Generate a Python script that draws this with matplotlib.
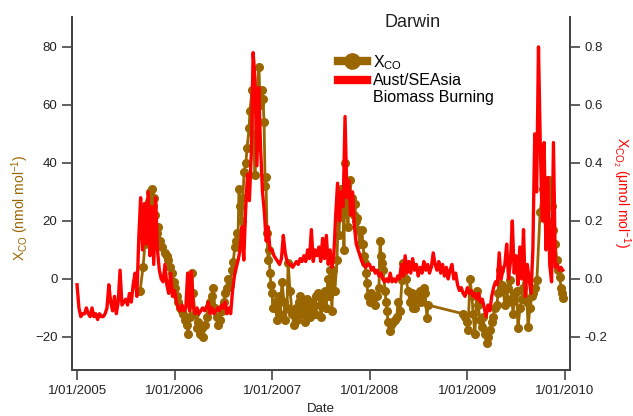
import matplotlib
matplotlib.use("Agg")
import matplotlib.pyplot as plt
import pandas as pd
from matplotlib.lines import Line2D
from matplotlib.ticker import FormatStrFormatter

plt.rcParams['font.family'] = ['Liberation Sans', 'DejaVu Sans']
plt.rcParams['mathtext.default'] = 'regular'

BROWN = '#996600'
RED = '#ff0000'
AXIS_GREY = '#444444'

# Aust/SEAsia biomass burning tracer (umol/mol), weekly, one list per year
red_2005 = [-0.02, -0.10, -0.13, -0.12, -0.12,
            -0.10, -0.12, -0.13, -0.10,
            -0.13, -0.12, -0.14, -0.12, -0.13,
            -0.13, -0.12, -0.10, -0.02,
            -0.08, -0.11, -0.06, -0.12,
            -0.08, 0.03, -0.09, -0.08, -0.07,
            -0.09, -0.05, -0.08, -0.02,
            0.02, -0.06, 0.14, 0.28,
            0.10, 0.26, 0.12, 0.30, 0.08,
            0.25, 0.05, 0.28, 0.10,
            0.03, 0.00, -0.01, 0.05,
            -0.02, -0.05, 0.02, -0.06]
red_2006 = [-0.04, -0.08, -0.10, -0.11,
            -0.09, -0.11, -0.10, 0.02,
            -0.11, 0.025, -0.10, -0.12, -0.10,
            -0.12, -0.11, -0.10, -0.11,
            -0.10, -0.08, -0.12, -0.10,
            -0.12, -0.11, -0.10, -0.11, -0.09,
            -0.10, -0.08, -0.12, -0.10,
            -0.12, -0.04, 0.01, 0.04,
            0.065, 0.10, 0.18, 0.065, 0.24,
            0.36, 0.27, 0.43, 0.78,
            0.69, 0.39, 0.66, 0.45,
            0.30, 0.23, 0.13, 0.18, 0.10]
red_2007 = [0.10, 0.08, 0.07, 0.06,
            0.05, 0.07, 0.15, 0.09,
            0.06, 0.05, 0.05, 0.04, 0.05,
            0.06, 0.05, 0.07, 0.06,
            0.08, 0.06, 0.10, 0.07,
            0.17, 0.06, 0.10, 0.08, 0.11,
            0.06, 0.14, 0.07, 0.15,
            0.05, 0.10, 0.04, 0.08,
            0.22, 0.33, 0.20, 0.30, 0.25,
            0.56, 0.28, 0.34, 0.22,
            0.30, 0.18, 0.12, 0.10,
            0.08, 0.06, 0.05, 0.04, 0.05]
red_2008 = [0.05, 0.03, 0.04, 0.02, 0.03,
            0.01, 0.02, 0.00, -0.01,
            0.00, -0.01, 0.02, -0.01,
            0.00, -0.01, 0.01, 0.00,
            0.05, 0.01, 0.08, 0.02,
            0.06, 0.02, 0.07, 0.03, 0.05,
            0.01, 0.04, 0.02, 0.06,
            0.03, 0.05, 0.02, 0.04,
            0.09, 0.05, 0.03, 0.06, 0.02,
            0.05, 0.01, 0.04, 0.00,
            0.03, 0.05, 0.00, 0.02,
            -0.02, -0.04, -0.03, -0.05, -0.06]
red_2009 = [-0.03, -0.05, -0.04, -0.06, -0.05,
            -0.07, -0.05, -0.08, -0.07,
            -0.10, -0.13, -0.09, -0.11,
            -0.06, -0.03, -0.01, -0.02,
            0.09, 0.00, 0.03, 0.05,
            0.12, 0.00, 0.06, 0.20, 0.02,
            0.08, -0.02, 0.11, 0.00,
            0.17, -0.06, 0.05, 0.00,
            -0.05, 0.10, 0.50, 0.30, 0.80,
            0.45, 0.20, 0.47, 0.10,
            0.35, 0.05, -0.01, 0.47,
            0.04, 0.05, 0.03, 0.04, 0.03]
red_years = {2005: red_2005, 2006: red_2006, 2007: red_2007,
             2008: red_2008, 2009: red_2009}

# X_CO (nmol/mol): days since 2005-01-01 and values
xco_day = [236, 247, 254, 262, 269, 273, 281, 284, 288, 292,
           299, 303, 311, 318, 329, 337, 341, 348, 355, 363,
           367, 374, 378, 385, 393, 397, 404, 412, 415, 423,
           430, 434, 442, 449, 453, 460, 468, 471, 479, 486,
           490, 498, 505, 509, 516, 524, 528, 535, 543, 550,
           554, 561, 565, 573, 580, 584, 591, 595, 599, 602,
           606, 610, 617, 621, 625, 632, 636, 644, 647, 655,
           659, 666, 670, 674, 681, 685, 692, 696, 700, 704,
           707, 711, 715, 718, 722, 726, 730, 733, 741, 748,
           756, 760, 767, 775, 778, 786, 790, 797, 805, 812,
           819, 823, 831, 834, 842, 849, 853, 861, 868, 872,
           879, 883, 891, 894, 902, 909, 913, 921, 928, 932,
           939, 943, 947, 954, 958, 965, 973, 977, 980, 988,
           992, 995, 999, 1003, 1007, 1010, 1014, 1022, 1025, 1029,
           1037, 1040, 1044, 1048, 1051, 1059, 1066, 1070, 1074, 1078,
           1081, 1085, 1089, 1096, 1100, 1108, 1115, 1123, 1130, 1134,
           1138, 1141, 1145, 1153, 1156, 1160, 1164, 1171, 1175, 1182,
           1190, 1197, 1201, 1209, 1216, 1220, 1227, 1231, 1239, 1246,
           1254, 1257, 1265, 1272, 1284, 1287, 1291, 1298, 1302, 1310,
           1313, 1444, 1452, 1459, 1463, 1471, 1478, 1482, 1489, 1497,
           1501, 1508, 1516, 1519, 1527, 1534, 1538, 1545, 1553, 1557,
           1564, 1572, 1575, 1583, 1590, 1594, 1602, 1609, 1613, 1620,
           1628, 1632, 1639, 1646, 1650, 1658, 1665, 1669, 1676, 1684,
           1688, 1695, 1703, 1706, 1714, 1721, 1733, 1744, 1751, 1759,
           1766, 1770, 1774, 1777, 1781, 1789, 1796, 1800, 1807, 1811,
           1815, 1819]
xco_val = [-4, 4, 12, 21, 27, 30, 31, 25, 28, 22,
           16, 18, 13, 11, 9, 8, 6.5, 4, 2, -1,
           -3, -6, -8, -10, -11, -12, -14, -16, -19, -13,
           2, -5, -12, -17, -15, -19, -17, -20, -16, -13,
           -10, -8, -6, -3, -10, -13, -16, -14, -11, -8,
           -5, -3, 0, -2, 3, 6, 11, 13, 16, 12,
           31, 25, 20, 28, 37, 40, 45, 52, 58, 65,
           50, 36, 45, 64, 73, 60, 65, 62, 54, 32,
           35, 16, 6.5, 10, 2, -2, -5, -10, -8, -14,
           -6, -12, -1, -8, -14, -10, 5.5, -4, -12, -16,
           -10, -14, -8, -6, -12, -9, -15, -7, -11, -13,
           -8, -10, -12, -6, -5, -9, -13, -7, -4, -10,
           0, -6, 3, -11, 3, -4, 6.5, 21, 15, 31,
           22, 28, 10, 40, 30, 24, 18, 34, 26, 28,
           22, 26, 20, 21, 17, 12, 17, 12, 8, 5.5,
           2, -1.5, -6, -8, -5, -6, -9, -6, -3, 13,
           8, 5.5, 3, -4, -8, -11, -15, -18, -16, -15,
           -14, -13, -8, -11, -0.5, 5.5, 5, 0, -4, -8,
           -5, -10, -10, -7, -4, -8, -6, -3, -5, -13.5,
           -9, -12, -13, -15, -17.5, 0, -6, -12, -19, -4,
           -9, -14, -16.5, -13, -19, -22, -20, -17.5, -15, -13,
           -10, -9, -5, 3, -2, -4, -9, -7, -3, -0.5,
           -8, -12, -5, -4, -17, -10, -7, -3, 2, -8,
           -16.5, -10, -6, -5, -3, -0.5, 23, 31, 28, 20,
           34, 33, 29, 25, 17, 12, 6.5, 3, 0.7, -3,
           -5, -6.5]

x_tick_years = [2005, 2006, 2007, 2008, 2009, 2010]
x_tick_labels = ['1/01/2005', '1/01/2006', '1/01/2007',
                 '1/01/2008', '1/01/2009', '1/01/2010']
left_ticks = [-20, 0, 20, 40, 60, 80]
right_ticks = [-0.2, 0.0, 0.2, 0.4, 0.6, 0.8]

red_dates = []
red_vals = []
for yr, vals in red_years.items():
    red_dates.extend(pd.date_range(f'{yr}-01-01', periods=len(vals), freq='7D'))
    red_vals.extend(vals)

t0 = pd.Timestamp('2005-01-01')
xco_dates = [t0 + pd.Timedelta(days=d) for d in xco_day]

fig = plt.figure(figsize=(6.33, 4.16), dpi=100)
ax = fig.add_axes([0.1137, 0.1106, 0.7868, 0.8485])
ax2 = ax.twinx()

ax.plot(xco_dates, xco_val, color=BROWN, lw=2, marker='o', ms=5.5, zorder=2)
ax2.plot(red_dates, red_vals, color=RED, lw=2.4, zorder=3)

ax.set_xlim(pd.Timestamp('2004-12-13'), pd.Timestamp('2010-01-20'))
ax.set_ylim(-31.4, 90.3)
ax2.set_ylim(-0.314, 0.903)

ax.set_xticks([pd.Timestamp(f'{y}-01-01') for y in x_tick_years])
ax.set_xticklabels(x_tick_labels)
ax.set_yticks(left_ticks)
ax2.set_yticks(right_ticks)
ax2.yaxis.set_major_formatter(FormatStrFormatter('%.1f'))

for a in (ax, ax2):
    a.spines['top'].set_visible(False)
    for s in ('left', 'right', 'bottom'):
        a.spines[s].set_color(AXIS_GREY)
        a.spines[s].set_linewidth(1.3)
    a.tick_params(direction='out', length=7, width=1.2, color=AXIS_GREY,
                  labelsize=9.5, labelcolor='#222222')

fig.text(0.032, 0.5, r'X$_{CO}$ (nmol mol$^{-1}$)', rotation=90,
         ha='center', va='center', color=BROWN, fontsize=10)
fig.text(0.981, 0.538, r'X$_{CO_2}$ (μmol mol$^{-1}$)', rotation=270,
         ha='center', va='center', color=RED, fontsize=10)
fig.text(0.507, 0.017, 'Date', ha='center', va='center', fontsize=9.5,
         color='#222222')
fig.text(0.651, 0.945, 'Darwin', ha='center', va='center', fontsize=13,
         color='#222222')

handles = [Line2D([0], [0], color=BROWN, lw=6, marker='o', ms=11),
           Line2D([0], [0], color=RED, lw=6),
           Line2D([], [], color='none')]
labels = [r'X$_{CO}$', 'Aust/SEAsia', 'Biomass Burning']
ax2.legend(handles, labels, loc='upper left', frameon=False, fontsize=11.5,
           bbox_to_anchor=(338 / 633, 1 - 53 / 416),
           bbox_transform=fig.transFigure, borderaxespad=0, borderpad=0,
           handlelength=1.8, handletextpad=0.4, labelspacing=0.1)

fig.savefig('out.png', dpi=100)
